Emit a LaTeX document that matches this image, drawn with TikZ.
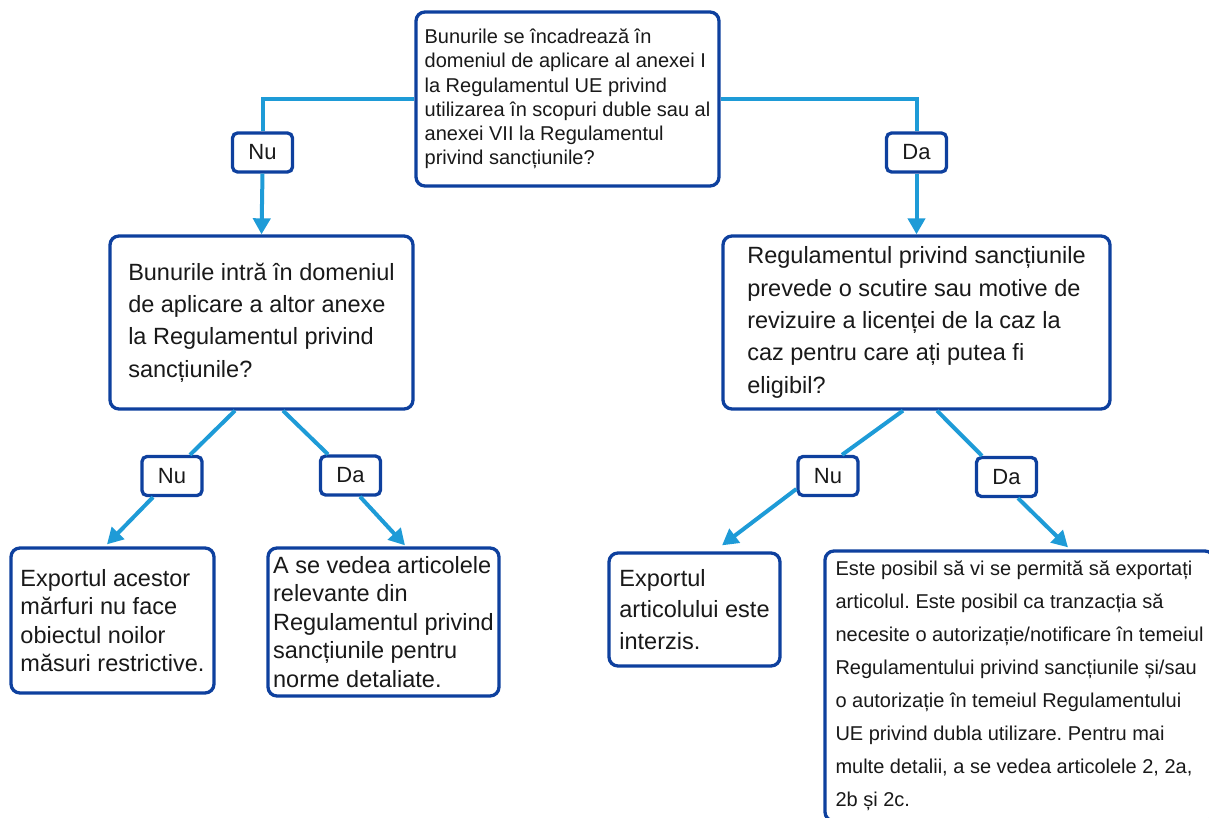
\documentclass[tikz,border=0pt]{standalone}
\usepackage{fontspec}
\setmainfont{Liberation Sans}
\usetikzlibrary{arrows.meta,calc}
\definecolor{navy}{RGB}{14,64,158}
\definecolor{flow}{RGB}{30,155,215}
\frenchspacing
\begin{document}
\begin{tikzpicture}[x=1pt,y=-1pt,
  box/.style={draw=navy, line width=3.3pt, rounded corners=9pt, fill=white, align=left, inner sep=0pt, text=black!90},
  lbl/.style={draw=navy, line width=3.3pt, rounded corners=5pt, fill=white, minimum width=60pt, minimum height=39pt, inner sep=0pt, text=black!90, font=\fontsize{22}{26}\selectfont},
  flowline/.style={draw=flow, line width=4pt},
  flowarrow/.style={flowline, -{Triangle[width=17pt,length=16pt]}}]
\useasboundingbox (0,0) rectangle (1209,818);

% main boxes
\node[box, minimum width=303pt, minimum height=174pt, font=\fontsize{20}{24.2}\selectfont] (top) at (567.5,99)
  {Bunurile se încadrează în\\domeniul de aplicare al anexei I\\la Regulamentul UE privind\\utilizarea în scopuri duble sau al\\anexei VII la Regulamentul\\privind sancțiunile?};
\node[box, minimum width=303pt, minimum height=173pt, font=\fontsize{23.5}{32.3}\selectfont] (midL) at (261.5,322.5)
  {Bunurile intră în domeniul\\de aplicare a altor anexe\\la Regulamentul privind\\sancțiunile?};
\node[box, minimum width=387pt, minimum height=173pt, font=\fontsize{23.5}{32.3}\selectfont] (midR) at (916.5,322.5)
  {Regulamentul privind sancțiunile\\prevede o scutire sau motive de\\revizuire a licenței de la caz la\\caz pentru care ați putea fi\\eligibil?};
\node[box, minimum width=203pt, minimum height=145pt, font=\fontsize{23.5}{28.4}\selectfont] (b1) at (112.5,620.5)
  {Exportul acestor\\mărfuri nu face\\obiectul noilor\\măsuri restrictive.};
\node[box, minimum width=231pt, minimum height=148pt, font=\fontsize{23.5}{28.5}\selectfont] (b2) at (383.5,622)
  {A se vedea articolele\\relevante din\\Regulamentul privind\\sancțiunile pentru\\norme detaliate.};
\node[box, minimum width=171pt, minimum height=113pt, font=\fontsize{23.5}{31.5}\selectfont] (b3) at (694.5,609.5)
  {Exportul\\articolului este\\interzis.};
\node[box, minimum width=389pt, minimum height=270pt, font=\fontsize{20}{33}\selectfont] (b4) at (1019.5,686)
  {Este posibil să vi se permită să exportați\\articolul. Este posibil ca tranzacția să\\necesite o autorizație/notificare în temeiul\\Regulamentului privind sancțiunile și/sau\\o autorizație în temeiul Regulamentului\\UE privind dubla utilizare. Pentru mai\\multe detalii, a se vedea articolele 2, 2a,\\2b și 2c.};

% labels
\node[lbl] (nu1) at (262.5,152.5) {Nu};
\node[lbl] (da1) at (916.5,152.5) {Da};
\node[lbl] (nu2) at (172,476) {Nu};
\node[lbl] (da2) at (350.5,475.5) {Da};
\node[lbl] (nu3) at (828,476) {Nu};
\node[lbl] (da3) at (1006.5,477) {Da};

% connectors
\draw[flowline] (top.west) -| (nu1.north);
\draw[flowarrow] (nu1.south) -- (midL.north);
\draw[flowline] (top.east) -| (da1.north);
\draw[flowarrow] (da1.south) -- (midR.north);

\draw[flowline] ($(midL.south)+(-26.5,0)$) -- ($(nu2.north)+(18,0)$);
\draw[flowarrow] ($(nu2.south)+(-19,0)$) -- ($(b1.north)+(-5.5,-2)$);
\draw[flowline] ($(midL.south)+(21.5,0)$) -- ($(da2.north)+(-22.5,0)$);
\draw[flowarrow] ($(da2.south)+(9.5,0)$) -- ($(b2.north)+(21.5,-1)$);

\draw[flowline] ($(midR.south)+(-13.5,0)$) -- ($(nu3.north)+(14,0)$);
\draw[flowarrow] ($(nu3.west)+(0,13)$) -- ($(b3.north)+(27.5,-6)$);
\draw[flowline] ($(midR.south)+(20.5,0)$) -- ($(da3.north)+(-24.5,0)$);
\draw[flowarrow] ($(da3.south)+(11.5,0)$) -- ($(b4.north)+(48.5,-2)$);
\end{tikzpicture}
\end{document}
